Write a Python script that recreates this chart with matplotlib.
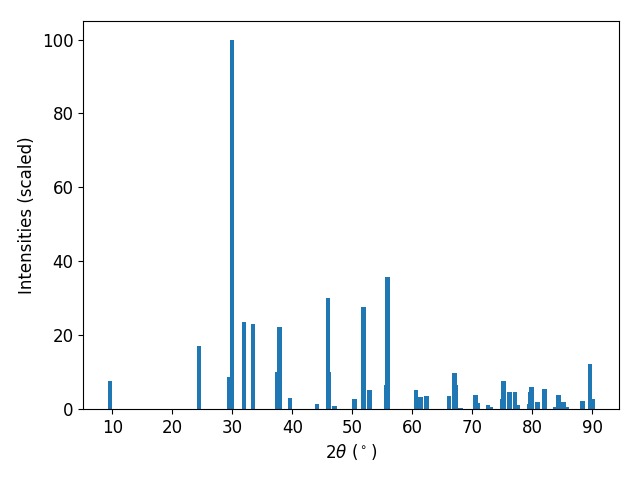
import numpy as np
import matplotlib.pyplot as plt

two_theta = np.array([9.6, 24.45, 29.45, 29.95, 31.95, 33.45, 37.45, 37.8, 39.6, 44.1,
                      45.95, 46.1, 47.05, 50.3, 51.9, 52.8, 55.6, 55.85, 60.6, 61.3,
                      62.3, 66.1, 66.95, 67.15, 67.95, 70.45, 70.8, 72.6, 73.0, 74.95,
                      75.15, 76.2, 77.1, 77.5, 79.45, 79.6, 79.85, 80.8, 81.95, 83.8,
                      84.3, 85.2, 85.65, 88.3, 89.6, 89.95])
intensity = np.array([7.6, 17.1, 8.7, 100, 23.6, 23.1, 10.1, 22.3, 3.0, 1.4,
                      30.1, 10.1, 0.9, 2.8, 27.7, 5.0, 6.6, 35.8, 5.2, 3.3,
                      3.5, 3.5, 9.8, 6.5, 0.3, 3.8, 1.7, 1.1, 0.5, 2.7,
                      7.6, 4.6, 4.6, 1.1, 1.4, 4.6, 6.0, 2.0, 5.4, 0.6,
                      3.8, 2.0, 0.6, 2.2, 12.2, 2.8])

plt.rcParams['font.size'] = 12
plt.figure(figsize=(6.4, 4.8), dpi=100)
plt.bar(two_theta, intensity)
plt.xlabel(r'$2\theta$ ($^\circ$)')
plt.ylabel('Intensities (scaled)')
plt.subplots_adjust(left=0.13, right=0.967, top=0.956, bottom=0.148)
plt.savefig('out.png')
